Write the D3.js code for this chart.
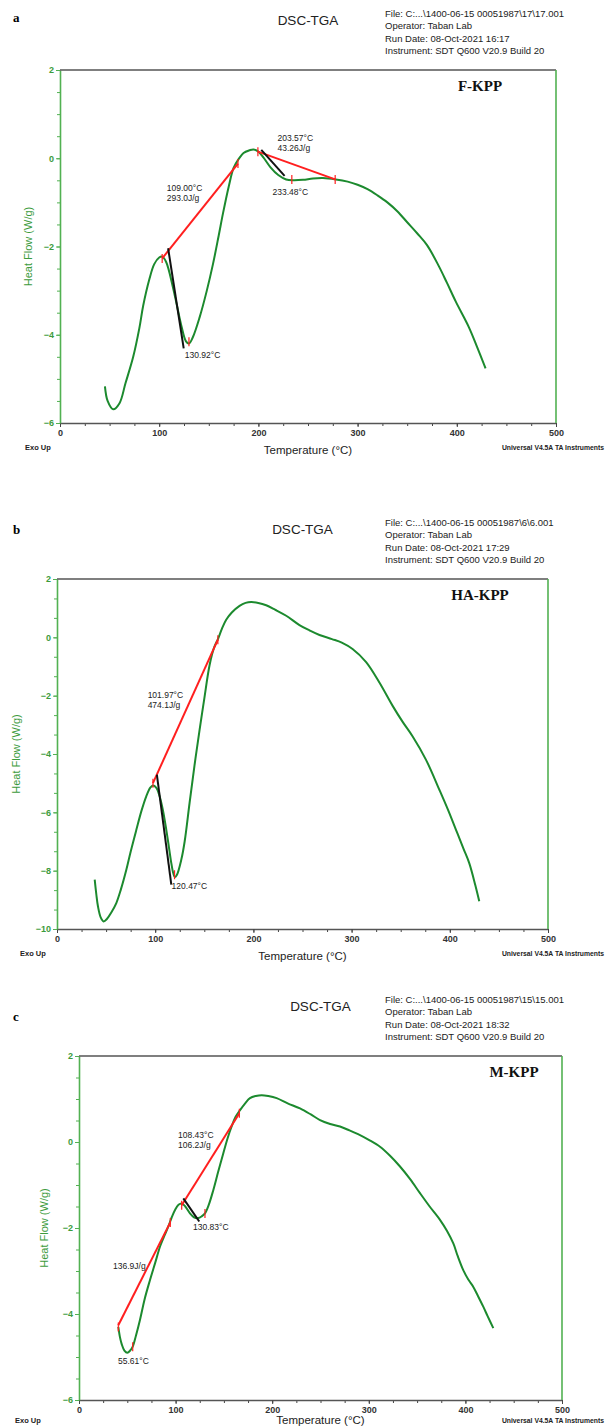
<!DOCTYPE html>
<html>
<head>
<meta charset="utf-8">
<script src="https://d3js.org/d3.v7.min.js"></script>
<style>
  body { margin: 0; background: #fff; }
  svg text { font-family: Arial, "Liberation Sans", sans-serif; }
  .curve { fill: none; stroke: #1c8a2e; stroke-width: 2px; }
  .base { stroke: #ff1f1f; stroke-width: 2px; }
  .tangent { stroke: #111; stroke-width: 2px; }
  .mark { stroke: #ff1f1f; stroke-width: 1.2px; }
</style>
</head>
<body>
<svg id="chart" width="605" height="1428"></svg>
<script>
// ---- data (temperature in °C, heat flow in W/g) ----
const tempF = [45.3, 48, 53.6, 60, 66, 73.8, 80, 83.8, 90, 95, 100, 103, 107, 113.7, 118, 122.4, 127, 130, 134, 140.8, 148, 154.2, 160, 164.3, 170, 175, 180, 185, 191, 195, 200, 205, 212, 220, 228, 235, 245, 255, 265, 278, 290, 300, 310, 320, 330, 340, 350, 360, 370, 382, 390, 399, 412, 420, 429];
const flowF = [-5.17, -5.5, -5.69, -5.55, -5.1, -4.5, -3.85, -3.35, -2.75, -2.4, -2.25, -2.23, -2.35, -2.91, -3.35, -3.8, -4.15, -4.2, -4.05, -3.6, -3.0, -2.4, -1.75, -1.25, -0.65, -0.22, -0.02, 0.12, 0.18, 0.2, 0.15, 0.02, -0.2, -0.38, -0.48, -0.5, -0.49, -0.46, -0.45, -0.48, -0.53, -0.6, -0.7, -0.84, -1.0, -1.2, -1.45, -1.7, -1.97, -2.45, -2.82, -3.25, -3.82, -4.25, -4.76];

const tempHA = [38.4, 40, 41.7, 44.5, 47.5, 51, 55, 60.4, 65, 70.6, 75, 80.8, 86, 90.9, 95, 97.7, 101, 104.5, 108, 111.3, 114, 116.4, 118.5, 120, 122, 126.6, 130, 135, 140, 145.2, 150, 155.4, 160, 164, 168, 172.3, 178, 185.9, 192, 197.8, 205, 213, 222, 233.4, 246.9, 257, 267.3, 280, 290, 301, 314.8, 328.3, 341.8, 352, 362.2, 375.8, 389.3, 398, 406.3, 414, 419.8, 426, 430];
const flowHA = [-8.31, -8.8, -9.22, -9.6, -9.74, -9.65, -9.45, -9.11, -8.65, -7.97, -7.35, -6.6, -5.95, -5.45, -5.15, -5.08, -5.15, -5.45, -5.95, -6.6, -7.2, -7.74, -8.1, -8.22, -8.15, -7.62, -7.0, -5.68, -4.4, -3.17, -2.1, -0.95, -0.35, -0.05, 0.3, 0.6, 0.85, 1.08, 1.18, 1.21, 1.18, 1.1, 0.95, 0.74, 0.42, 0.24, 0.08, -0.06, -0.18, -0.4, -0.85, -1.55, -2.35, -2.9, -3.4, -4.2, -5.22, -5.9, -6.6, -7.25, -7.74, -8.5, -9.05];

const tempM = [40.7, 42.5, 44.2, 47, 50, 53, 55.6, 59, 63.1, 68, 73.5, 79, 83.9, 88, 92.4, 96, 99.4, 103, 106.3, 110, 114.9, 119, 123.5, 127, 130.4, 134.5, 139, 144, 149.4, 154, 158, 162, 166.7, 172, 177, 183, 189.1, 196, 204.6, 216, 228.8, 240, 249.5, 260, 270.2, 280, 290.9, 300, 311.6, 322, 332.3, 343, 353, 363, 373.7, 381, 387.5, 392, 397.8, 403, 408.2, 413, 418.5, 423, 428.9];
const flowM = [-4.3, -4.55, -4.7, -4.85, -4.9, -4.85, -4.76, -4.5, -4.14, -3.65, -3.21, -2.8, -2.43, -2.2, -1.97, -1.75, -1.58, -1.46, -1.43, -1.5, -1.66, -1.75, -1.77, -1.73, -1.66, -1.45, -1.12, -0.7, -0.26, 0.1, 0.36, 0.58, 0.74, 0.9, 1.02, 1.07, 1.09, 1.07, 1.02, 0.9, 0.78, 0.64, 0.51, 0.42, 0.36, 0.27, 0.16, 0.05, -0.11, -0.32, -0.57, -0.87, -1.19, -1.5, -1.81, -2.07, -2.36, -2.65, -2.98, -3.2, -3.37, -3.58, -3.83, -4.05, -4.33];

// analysis lines: [T1, HF1, T2, HF2]
const baseF = [[103, -2.27, 179.4, -0.12], [199.5, 0.15, 277.4, -0.48]];
const tanF = [[109, -2.04, 124.7, -4.31], [202.9, 0.19, 226.4, -0.4]];
const marksF = [[103, -2.27], [179.4, -0.12], [130, -4.16], [199.5, 0.15], [233.7, -0.48], [277.4, -0.48]];
const labelsF = [[107.6, -0.74, '109.00°C', '293.0J/g'], [125.8, -4.53, '130.92°C'], [219.3, 0.39, '203.57°C', '43.26J/g'], [214.3, -0.83, '233.48°C']];

const baseHA = [[97.7, -5.0, 163.8, -0.08]];
const tanHA = [[101.7, -4.71, 116.4, -8.48]];
const marksHA = [[97.7, -5.0], [163.8, -0.08], [119.7, -8.14]];
const labelsHA = [[92.3, -2.07, '101.97°C', '474.1J/g'], [116.7, -8.62, '120.47°C']];

const baseM = [[40.7, -4.26, 94.5, -1.87], [106.3, -1.47, 166, 0.67]];
const tanM = [[108, -1.31, 124.5, -1.85]];
const marksM = [[40.7, -4.3], [55.6, -4.76], [94.5, -1.87], [106.3, -1.47], [130.4, -1.66], [166, 0.67]];
const labelsM = [[102.5, 0.09, '108.43°C', '106.2J/g'], [118, -2.05, '130.83°C'], [35.2, -2.95, '136.9J/g'], [40.4, -5.16, '55.61°C']];

const xTicks = [0, 100, 200, 300, 400, 500];

const panels = [
  { letter: 'a', sample: 'F-KPP', file: 'File: C:...\\1400-06-15 00051987\\17\\17.001', run: 'Run Date: 08-Oct-2021 16:17',
    temp: tempF, flow: flowF, base: baseF, tan: tanF, marks: marksF, labels: labelsF,
    yDomain: [-6, 2], yTicks: [-6, -4, -2, 0, 2], yMinor: 0.5,
    left: 60, right: 556, top: 70, bottom: 423, letterY: 18, ylabX: 28, exoX: 25, sampleX: 480 },
  { letter: 'b', sample: 'HA-KPP', file: 'File: C:...\\1400-06-15 00051987\\6\\6.001', run: 'Run Date: 08-Oct-2021 17:29',
    temp: tempHA, flow: flowHA, base: baseHA, tan: tanHA, marks: marksHA, labels: labelsHA,
    yDomain: [-10, 2], yTicks: [-10, -8, -6, -4, -2, 0, 2], yMinor: 2 / 3,
    left: 57, right: 548, top: 579, bottom: 929, letterY: 530, ylabX: 16, exoX: 20, sampleX: 480 },
  { letter: 'c', sample: 'M-KPP', file: 'File: C:...\\1400-06-15 00051987\\15\\15.001', run: 'Run Date: 08-Oct-2021 18:32',
    temp: tempM, flow: flowM, base: baseM, tan: tanM, marks: marksM, labels: labelsM,
    yDomain: [-6, 2], yTicks: [-6, -4, -2, 0, 2], yMinor: 0.5,
    left: 79, right: 562, top: 1056, bottom: 1400, letterY: 1017, ylabX: 44, exoX: 15, sampleX: 514 }
];

const svg = d3.select('#chart');
const axisGreen = '#52b152';
const labelGreen = '#3c9b3c';
const pageH = 1428;

panels.forEach(p => {
  const g = svg.append('g');
  const x = d3.scaleLinear().domain([0, 500]).range([p.left, p.right]);
  const y = d3.scaleLinear().domain(p.yDomain).range([p.bottom, p.top]);

  // header
  g.append('text').attr('x', 13).attr('y', p.letterY + 4).text(p.letter)
    .style('font-family', '"Liberation Serif", "Times New Roman", serif').style('font-weight', 'bold').style('font-size', '13px');
  g.append('text').attr('x', (p.left + p.right) / 2).attr('y', p.top - 45).attr('text-anchor', 'middle')
    .style('font-size', '13.5px').attr('fill', '#222').text('DSC-TGA');
  const info = [p.file, 'Operator: Taban Lab', p.run, 'Instrument: SDT Q600 V20.9 Build 20'];
  g.selectAll('.info').data(info).enter().append('text')
    .attr('x', 385).attr('y', (d, i) => p.top - 53 + i * 12.3)
    .style('font-size', '9.5px').attr('fill', '#222').text(d => d);

  // minor ticks
  g.append('g').attr('transform', `translate(0,${p.bottom})`)
    .call(d3.axisBottom(x).tickValues(d3.range(0, 501, 25)).tickSize(3).tickFormat(''))
    .call(a => a.select('.domain').remove())
    .selectAll('line').attr('stroke', '#444');
  const yMinorVals = d3.range(0, Math.round((p.yDomain[1] - p.yDomain[0]) / p.yMinor) + 1).map(i => p.yDomain[0] + i * p.yMinor);
  g.append('g').attr('transform', `translate(${p.left},0)`)
    .call(d3.axisLeft(y).tickValues(yMinorVals).tickSize(3).tickFormat(''))
    .call(a => a.select('.domain').remove())
    .selectAll('line').attr('stroke', axisGreen);

  // major axes
  const xa = g.append('g').attr('transform', `translate(0,${p.bottom})`)
    .call(d3.axisBottom(x).tickValues(xTicks).tickSize(4).tickSizeOuter(0).tickPadding(3));
  xa.select('.domain').attr('stroke', '#555').attr('stroke-width', 1.6);
  xa.selectAll('line').attr('stroke', '#444');
  xa.selectAll('text').style('font-size', '9px').style('font-weight', 'bold').attr('fill', '#333');

  const ya = g.append('g').attr('transform', `translate(${p.left},0)`)
    .call(d3.axisLeft(y).tickValues(p.yTicks).tickSize(4).tickSizeOuter(0).tickPadding(2));
  ya.select('.domain').attr('stroke', axisGreen).attr('stroke-width', 1.6);
  ya.selectAll('line').attr('stroke', axisGreen);
  ya.selectAll('text').style('font-size', '9px').style('font-weight', 'bold').attr('fill', labelGreen);

  // frame top and right
  g.append('line').attr('x1', p.left).attr('x2', p.right).attr('y1', p.top).attr('y2', p.top)
    .attr('stroke', '#555').attr('stroke-width', 1.6);
  g.append('line').attr('x1', p.right).attr('x2', p.right).attr('y1', p.top).attr('y2', p.bottom)
    .attr('stroke', axisGreen).attr('stroke-width', 1.6);

  // axis titles
  const footY = Math.min(p.bottom + 27, pageH - 5);
  g.append('text').attr('transform', `translate(${p.ylabX + 4},${(p.top + p.bottom) / 2}) rotate(-90)`)
    .attr('text-anchor', 'middle').style('font-size', '11px').attr('fill', labelGreen).text('Heat Flow (W/g)');
  g.append('text').attr('x', (p.left + p.right) / 2).attr('y', Math.min(p.bottom + 31, pageH - 4)).attr('text-anchor', 'middle')
    .style('font-size', '11.5px').attr('fill', '#222').text('Temperature (°C)');
  g.append('text').attr('x', p.exoX).attr('y', footY)
    .style('font-size', '7.5px').style('font-weight', 'bold').attr('fill', '#222').text('Exo Up');
  g.append('text').attr('x', 604).attr('y', footY).attr('text-anchor', 'end')
    .style('font-size', '6.8px').style('font-weight', 'bold').attr('fill', '#222').text('Universal V4.5A TA Instruments');

  // sample name
  g.append('text').attr('x', p.sampleX).attr('y', p.top + 21).attr('text-anchor', 'middle')
    .style('font-family', '"Liberation Serif", "Times New Roman", serif').style('font-weight', 'bold')
    .style('font-size', '15px').attr('fill', '#111').text(p.sample);

  // curve
  const pts = p.temp.map((t, i) => [t, p.flow[i]]);
  const line = d3.line().x(d => x(d[0])).y(d => y(d[1])).curve(d3.curveCatmullRom.alpha(0.5));
  g.append('path').datum(pts).attr('class', 'curve').attr('d', line);

  // analysis
  g.selectAll('.base').data(p.base).enter().append('line').attr('class', 'base')
    .attr('x1', d => x(d[0])).attr('y1', d => y(d[1])).attr('x2', d => x(d[2])).attr('y2', d => y(d[3]));
  g.selectAll('.tangent').data(p.tan).enter().append('line').attr('class', 'tangent')
    .attr('x1', d => x(d[0])).attr('y1', d => y(d[1])).attr('x2', d => x(d[2])).attr('y2', d => y(d[3]));
  g.selectAll('.mark').data(p.marks).enter().append('line').attr('class', 'mark')
    .attr('x1', d => x(d[0])).attr('x2', d => x(d[0])).attr('y1', d => y(d[1]) - 4.5).attr('y2', d => y(d[1]) + 4.5);

  p.labels.forEach(l => {
    const t = g.append('text').attr('x', x(l[0])).attr('y', y(l[1]))
      .style('font-size', '8.5px').attr('fill', '#222');
    t.append('tspan').attr('x', x(l[0])).text(l[2]);
    if (l[3]) t.append('tspan').attr('x', x(l[0])).attr('dy', 10).text(l[3]);
  });
});
</script>
</body>
</html>
